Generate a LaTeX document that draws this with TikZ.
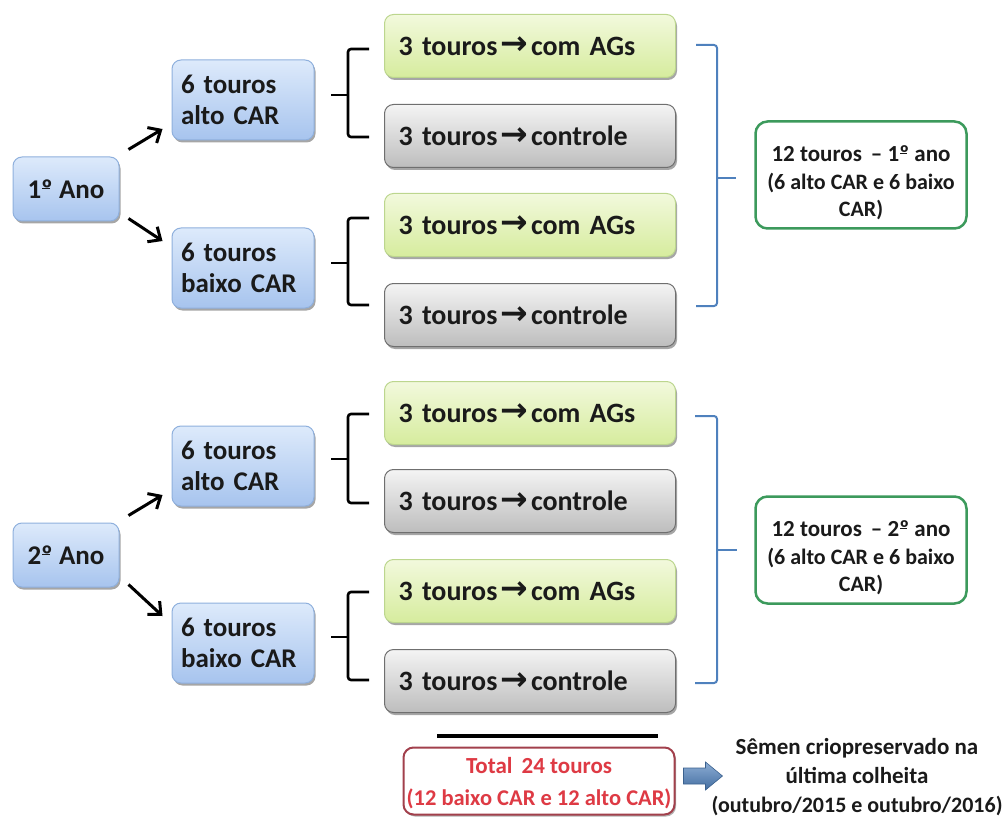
\documentclass[tikz,border=0pt]{standalone}
\usepackage{fontspec}
\setmainfont{Carlito}
\newfontfamily\arrowfont{DejaVu Sans}
\usetikzlibrary{shadows,arrows.meta,calc}
\definecolor{bluetop}{HTML}{DDEAFB}
\definecolor{bluebot}{HTML}{A7C4EE}
\definecolor{blueline}{HTML}{8FB0DD}
\definecolor{greentop}{HTML}{F2F9DC}
\definecolor{greenbot}{HTML}{D6EC9E}
\definecolor{greenline}{HTML}{BCD68E}
\definecolor{graytop}{HTML}{F4F4F4}
\definecolor{graybot}{HTML}{BDBDBD}
\definecolor{grayline}{HTML}{6F6F6F}
\definecolor{resline}{HTML}{3C9A5C}
\definecolor{brkblue}{HTML}{4F81BD}
\definecolor{redline}{HTML}{A2404C}
\definecolor{redtext}{HTML}{DE3A44}
\definecolor{txt}{HTML}{1A1A1A}
\tikzset{
  every node/.style={font=\bfseries, text=txt},
  boxbase/.style={rounded corners=9pt, line width=1pt,
    drop shadow={shadow xshift=1.5pt, shadow yshift=-2.5pt, fill=black, opacity=0.35}},
  bluebox/.style={boxbase, draw=blueline, top color=bluetop, bottom color=bluebot,
    font=\fontsize{27}{31}\selectfont\bfseries},
  sixbox/.style={bluebox, minimum width=142pt, minimum height=80pt, text width=124pt,
    inner xsep=9pt, align=left},
  anobox/.style={bluebox, minimum width=106pt, minimum height=64pt, align=center},
  greenbox/.style={boxbase, draw=greenline, top color=greentop, bottom color=greenbot,
    minimum width=291pt, minimum height=63pt, text width=263pt, inner xsep=14pt, align=left,
    font=\fontsize{28}{32}\selectfont\bfseries},
  graybox/.style={greenbox, draw=grayline, top color=graytop, bottom color=graybot},
  resbox/.style={rounded corners=12pt, draw=resline, line width=2.5pt, fill=white,
    minimum width=211pt, minimum height=107pt},
  restext/.style={align=center, font=\fontsize{22}{27.5}\selectfont\bfseries},
  brace/.style={line width=2.6pt, draw=black, rounded corners=3pt},
  bbrack/.style={line width=2pt, draw=brkblue, rounded corners=3pt},
  arr/.style={line width=3pt, -{Straight Barb[length=10pt,width=18pt,line width=3pt]}},
  blockarr/.style={top color=brkblue!65, bottom color=brkblue!85!black, draw=brkblue!75!black, line width=0.6pt},
}
\newcommand{\tarrow}{\hspace{3pt}\raisebox{0.02em}{\arrowfont\bfseries\fontsize{33}{32}\selectfont →}\hspace{3pt}}
\newcommand{\ordo}{\makebox[0pt][l]{\hspace{0.04em}\rule[0.33em]{0.3em}{0.055em}}º}
\begin{document}
\begin{tikzpicture}[x=1pt,y=-1pt]
\useasboundingbox (0,0) rectangle (1008,818);

% ---------- Year 1 ----------
\node[anobox] (ano1) at (66,189) {1\ordo\ Ano};
\node[sixbox] (a1) at (243,100) {6 touros\\alto CAR};
\node[sixbox] (b1) at (243,268) {6 touros\\baixo CAR};
\draw[arr] ($(ano1.north east)+(9,-7)$) -- ($(a1.west)+(-9,29)$);
\draw[arr] ($(ano1.south east)+(9,-3)$) -- ($(b1.west)+(-9,-27)$);

\node[greenbox] (g1) at (530,46) {3 touros\tarrow com AGs};
\node[graybox] (c1) at (530,136) {3 touros\tarrow controle};
\node[greenbox] (g2) at (530,225) {3 touros\tarrow com AGs};
\node[graybox] (c2) at (530,315) {3 touros\tarrow controle};

\draw[brace] (369,49) -- (348,49) -- (348,137) -- (369,137);
\draw[brace] (348,95) -- (331,95);
\draw[brace] (369,218) -- (348,218) -- (348,305) -- (369,305);
\draw[brace] (348,263) -- (331,263);

\node[resbox] (res1) at (861,175) {};
\node[restext] (res1t) at (861,183) {{\fontsize{23}{27.5}\selectfont 12 touros \,– 1\ordo\ ano}\\
  (6 alto CAR e 6 baixo\\ CAR)};
\coordinate (r1tip) at ($(res1.west)+(-18,3)$);
\draw[bbrack] (696,45) -- (717,45) -- (717,306) -- (696,306);
\draw[bbrack] (717,178) -- (r1tip);

% ---------- Year 2 ----------
\node[anobox] (ano2) at (66,555) {2\ordo\ Ano};
\node[sixbox] (a2) at (243,466) {6 touros\\alto CAR};
\node[sixbox] (b2) at (243,643) {6 touros\\baixo CAR};
\draw[arr] ($(ano2.north east)+(9,-7)$) -- ($(a2.west)+(-9,29)$);
\draw[arr] ($(ano2.south east)+(9,-3)$) -- ($(b2.west)+(-9,-27)$);

\node[greenbox] (g3) at (530,413) {3 touros\tarrow com AGs};
\node[graybox] (c3) at (530,501) {3 touros\tarrow controle};
\node[greenbox] (g4) at (530,591) {3 touros\tarrow com AGs};
\node[graybox] (c4) at (530,681) {3 touros\tarrow controle};

\draw[brace] (369,414) -- (348,414) -- (348,503) -- (369,503);
\draw[brace] (348,459) -- (331,459);
\draw[brace] (369,592) -- (348,592) -- (348,680) -- (369,680);
\draw[brace] (348,637) -- (331,637);

\node[resbox] (res2) at (861,550) {};
\node[restext] (res2t) at (861,558) {{\fontsize{23}{27.5}\selectfont 12 touros \,– 2\ordo\ ano}\\
  (6 alto CAR e 6 baixo\\ CAR)};
\coordinate (r2tip) at ($(res2.west)+(-17,0)$);
\draw[bbrack] (695,416) -- (717,416) -- (717,683) -- (695,683);
\draw[bbrack] (717,550) -- (r2tip);

% ---------- Total ----------
\coordinate (l1) at (437,736);
\coordinate (l2) at (658,736);
\draw[line width=4pt] (l1) -- (l2);
\node[rounded corners=10pt, draw=redline, line width=2pt, fill=white,
  minimum width=271pt, minimum height=67pt,
  drop shadow={shadow xshift=1.5pt, shadow yshift=-2pt, fill=black, opacity=0.3}] (tot) at (539,781) {};
\node[align=center, text=redtext, font=\fontsize{23}{32}\selectfont\bfseries] (tott) at (539,783)
  {Total \,24 touros\\ {\fontsize{22.5}{32}\selectfont (12 baixo CAR e 12 alto CAR)}};
\coordinate (barr) at ($(tot.east)+(8,-5)$);
\draw[blockarr] (barr) ++(0,-8) -- ++(22,0) -- ++(0,-6) -- ++(17,14) -- ++(-17,14)
  -- ++(0,-6) -- ++(-22,0) -- cycle;
\node[align=center, font=\fontsize{23}{29}\selectfont\bfseries] (sem) at (857,777)
  {Sêmen criopreservado na\\última colheita\\{\fontsize{22}{29}\selectfont (outubro/2015 e outubro/2016)}};
\end{tikzpicture}
\end{document}
